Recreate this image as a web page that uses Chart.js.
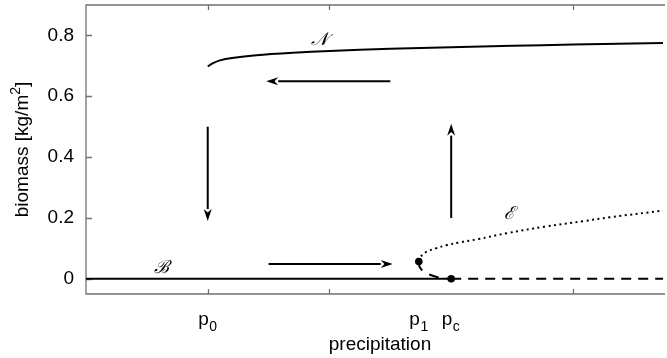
<!DOCTYPE html>
<html>
<head>
<meta charset="utf-8">
<script src="https://cdn.jsdelivr.net/npm/chart.js@4.4.1/dist/chart.umd.min.js"></script>
<style>
  html, body { margin: 0; padding: 0; background: #fff; }
  canvas { display: block; }
</style>
</head>
<body>
<canvas id="chart" width="667" height="358"></canvas>
<script>
// vegetated branch N
const precipN  = [100, 102, 105, 110, 120, 135, 150, 175, 200, 225, 250, 287];
const biomassN = [0.698, 0.708, 0.718, 0.726, 0.735, 0.743, 0.749, 0.756, 0.761, 0.766, 0.770, 0.775];
// bare soil B (stable up to pc, unstable after)
const precipB  = [50, 200];
const biomassB = [0, 0];
const precipBu  = [200, 287];
const biomassBu = [0, 0];
// unstable branch between p1 and pc
const precipU  = [186.7, 187, 188.5, 191, 195, 200];
const biomassU = [0.057, 0.040, 0.025, 0.014, 0.004, 0];
// branch E
const precipE  = [186.7, 187.3, 188.4, 190.2, 193.7, 197.9, 203.7, 210.8, 223, 238.2, 254.8, 265, 287];
const biomassE = [0.057, 0.07, 0.08, 0.09, 0.1, 0.11, 0.12, 0.13, 0.15, 0.171, 0.19, 0.202, 0.224];
// special points p1 and pc
const dotX = [186.7, 200];
const dotY = [0.057, 0];

// x tick marks and labels
const xTickMarks = [100, 150, 250];
const pLabelX    = [100, 186.7, 200];
const pLabelSub  = ['0', '1', 'c'];
const yTicks     = [0, 0.2, 0.4, 0.6, 0.8];

// hysteresis arrows (tail -> head)
const arrowX0 = [175, 100, 125, 200];
const arrowY0 = [0.649, 0.5, 0.049, 0.2];
const arrowX1 = [124, 100, 176, 200];
const arrowY1 = [0.649, 0.19, 0.049, 0.51];

// branch names
const nameText = ['\u{1D4A9}', '\u212C', '\u2130'];
const nameX    = [146, 81, 224];
const nameY    = [0.784, 0.036, 0.213];

const FONT = '"Liberation Sans", Arial, Helvetica, sans-serif';
const FS = 19;

const pts = (xs, ys) => xs.map((x, i) => ({ x: x, y: ys[i] }));

const decor = {
  id: 'decor',
  beforeDatasetsDraw(chart) {
    const { ctx, chartArea: a, scales: { x, y } } = chart;
    ctx.save();
    ctx.strokeStyle = '#707070';
    ctx.lineWidth = 1.3;
    ctx.beginPath();
    ctx.moveTo(a.right + 2, a.top);
    ctx.lineTo(a.left, a.top);
    ctx.lineTo(a.left, a.bottom);
    ctx.lineTo(a.right + 2, a.bottom);
    ctx.stroke();
    ctx.beginPath();
    xTickMarks.forEach(v => {
      const px = Math.round(x.getPixelForValue(v)) + 0.5;
      ctx.moveTo(px, a.top); ctx.lineTo(px, a.top + 5);
      ctx.moveTo(px, a.bottom); ctx.lineTo(px, a.bottom - 5);
    });
    yTicks.forEach(v => {
      const py = Math.round(y.getPixelForValue(v)) + 0.5;
      ctx.moveTo(a.left, py); ctx.lineTo(a.left + 6, py);
    });
    ctx.stroke();
    ctx.restore();
  },
  afterDraw(chart) {
    const { ctx, chartArea: a, scales: { x, y } } = chart;
    ctx.save();
    ctx.fillStyle = '#000';
    ctx.strokeStyle = '#000';

    // arrows
    ctx.lineWidth = 2;
    arrowX0.forEach((v, i) => {
      const x0 = x.getPixelForValue(v), y0 = y.getPixelForValue(arrowY0[i]);
      const x1 = x.getPixelForValue(arrowX1[i]), y1 = y.getPixelForValue(arrowY1[i]);
      const ang = Math.atan2(y1 - y0, x1 - x0);
      const hl = 12, hw = 4;
      const bx = x1 - hl * Math.cos(ang), by = y1 - hl * Math.sin(ang);
      ctx.beginPath();
      ctx.moveTo(x0, y0);
      ctx.lineTo(bx, by);
      ctx.stroke();
      ctx.beginPath();
      ctx.moveTo(x1, y1);
      ctx.lineTo(bx - hw * Math.sin(ang), by + hw * Math.cos(ang));
      ctx.lineTo(x1 - 0.7 * hl * Math.cos(ang), y1 - 0.7 * hl * Math.sin(ang));
      ctx.lineTo(bx + hw * Math.sin(ang), by - hw * Math.cos(ang));
      ctx.closePath();
      ctx.fill();
    });

    // branch names
    ctx.font = 'italic 18px "DejaVu Serif", "Liberation Serif", serif';
    ctx.textAlign = 'center';
    ctx.textBaseline = 'middle';
    nameText.forEach((t, i) => {
      ctx.fillText(t, x.getPixelForValue(nameX[i]), y.getPixelForValue(nameY[i]));
    });

    // p labels with subscripts
    ctx.textAlign = 'left';
    ctx.textBaseline = 'alphabetic';
    pLabelX.forEach((v, i) => {
      const px = x.getPixelForValue(v) - 9.5;
      ctx.font = FS + 'px ' + FONT;
      ctx.fillText('p', px, 325);
      const w = ctx.measureText('p').width;
      ctx.font = '14px ' + FONT;
      ctx.fillText(pLabelSub[i], px + w + 0.5, 331);
    });

    // x title
    ctx.font = FS + 'px ' + FONT;
    ctx.textAlign = 'center';
    ctx.fillText('precipitation', 380, 350);

    // y title with superscript
    ctx.translate(28, (a.top + a.bottom) / 2);
    ctx.rotate(-Math.PI / 2);
    const t1 = 'biomass [kg/m', t2 = '2', t3 = ']';
    ctx.font = FS + 'px ' + FONT;
    const w1 = ctx.measureText(t1).width, w3 = ctx.measureText(t3).width;
    ctx.font = '14px ' + FONT;
    const w2 = ctx.measureText(t2).width;
    let sx = -(w1 + w2 + w3) / 2;
    ctx.textAlign = 'left';
    ctx.font = FS + 'px ' + FONT;
    ctx.fillText(t1, sx, 0);
    ctx.font = '14px ' + FONT;
    ctx.fillText(t2, sx + w1, -8);
    ctx.font = FS + 'px ' + FONT;
    ctx.fillText(t3, sx + w1 + w2, 0);
    ctx.restore();
  }
};

new Chart(document.getElementById('chart'), {
  type: 'scatter',
  data: {
    datasets: [
      { data: pts(dotX, dotY), showLine: false, pointRadius: 3.8, pointBackgroundColor: '#000', pointBorderWidth: 0 },
      { data: pts(precipN, biomassN), showLine: true, borderColor: '#000', borderWidth: 2, pointRadius: 0, tension: 0.3 },
      { data: pts(precipB, biomassB), showLine: true, borderColor: '#000', borderWidth: 2, pointRadius: 0 },
      { data: pts(precipBu, biomassBu), showLine: true, borderColor: '#000', borderWidth: 2, borderDash: [10, 7], pointRadius: 0 },
      { data: pts(precipU, biomassU), showLine: true, borderColor: '#000', borderWidth: 2, borderDash: [10, 8], pointRadius: 0, tension: 0.4 },
      { data: pts(precipE, biomassE), showLine: true, borderColor: '#000', borderWidth: 2, borderDash: [2, 3.5], pointRadius: 0, tension: 0.4 }
    ]
  },
  options: {
    responsive: false,
    animation: false,
    devicePixelRatio: 1,
    layout: { padding: { top: 5, right: 0, bottom: 64, left: 0 } },
    plugins: { legend: { display: false }, tooltip: { enabled: false } },
    scales: {
      x: { type: 'linear', min: 50, max: 287, display: false },
      y: {
        type: 'linear', min: -0.05, max: 0.9,
        grid: { display: false, drawTicks: false },
        border: { display: false },
        afterFit: s => { s.width = 86; s.paddingTop = 0; s.paddingBottom = 0; },
        afterBuildTicks: s => { s.ticks = yTicks.map(v => ({ value: v })); },
        ticks: {
          padding: 12,
          color: '#000',
          font: { family: FONT, size: FS },
          callback: v => v === 0 ? '0' : v.toFixed(1)
        }
      }
    }
  },
  plugins: [decor]
});
</script>
</body>
</html>
